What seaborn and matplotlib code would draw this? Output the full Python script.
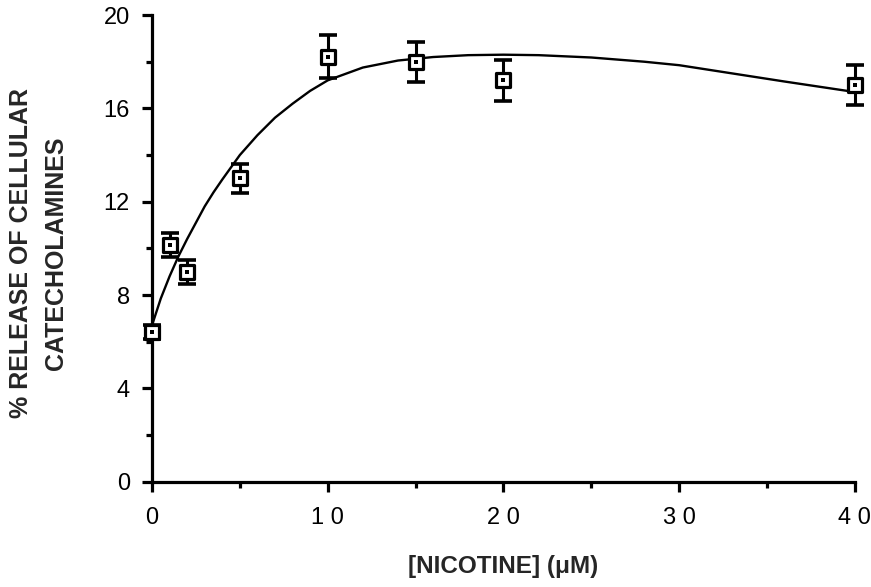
import matplotlib
matplotlib.use("Agg")
import matplotlib.pyplot as plt
import seaborn as sns
import pandas as pd
from matplotlib.ticker import MultipleLocator

# measured points
nicotine = [0, 1, 2, 5, 10, 15, 20, 40]
release = [6.42, 10.14, 8.99, 13.0, 18.21, 18.0, 17.2, 17.0]
err = [0.3, 0.53, 0.5, 0.62, 0.93, 0.85, 0.87, 0.85]

# fitted curve
curve_x = [0, 0.5, 1, 1.5, 2, 2.5, 3, 3.5, 4, 5, 6, 7, 8, 9, 10, 12, 14, 16,
           18, 20, 22, 25, 28, 30, 33, 36, 40]
curve_y = [6.7, 7.85, 8.8, 9.65, 10.4, 11.1, 11.8, 12.4, 12.95, 14.0, 14.85,
           15.6, 16.2, 16.75, 17.2, 17.75, 18.05, 18.2, 18.28, 18.3, 18.28,
           18.18, 18.0, 17.85, 17.5, 17.15, 16.7]

x_ticks = [0, 10, 20, 30, 40]
y_ticks = [0, 4, 8, 12, 16, 20]

sns.set_theme(style="ticks")
plt.rcParams['font.family'] = ['Liberation Sans', 'DejaVu Sans']

fig = plt.figure(figsize=(8.71, 5.87), dpi=100)
ax = fig.add_axes([0.1745, 0.1794, 0.807, 0.795])

pts = pd.DataFrame({"x": nicotine, "y": release, "e": err})
cur = pd.DataFrame({"x": curve_x, "y": curve_y})

sns.lineplot(data=cur, x="x", y="y", ax=ax, color="black", linewidth=1.7,
             sort=False, zorder=2)
ax.errorbar(pts["x"], pts["y"], yerr=pts["e"], fmt="none", ecolor="black",
            elinewidth=2.2, capsize=6.5, capthick=2.6, zorder=3, clip_on=False)
sns.scatterplot(data=pts, x="x", y="y", ax=ax, marker="s", s=100,
                facecolor="white", edgecolor="black", linewidth=2.3,
                zorder=4, clip_on=False)
sns.scatterplot(data=pts, x="x", y="y", ax=ax, marker="s", s=7,
                color="black", linewidth=0, zorder=5, clip_on=False)

ax.set_xlim(0, 40)
ax.set_ylim(0, 20)
ax.set_xticks(x_ticks)
ax.set_yticks(y_ticks)
ax.xaxis.set_minor_locator(MultipleLocator(5))
ax.yaxis.set_minor_locator(MultipleLocator(2))
ax.set_xticklabels([" ".join(str(t)) for t in x_ticks])

sns.despine(ax=ax)
for s in ["left", "bottom"]:
    ax.spines[s].set_linewidth(2.3)
    ax.spines[s].set_color("black")
ax.tick_params(axis="both", which="major", length=7.5, width=2.3, colors="black",
               labelsize=17, direction="out")
ax.tick_params(axis="x", which="major", pad=11)
ax.tick_params(axis="y", which="major", pad=8.5)
ax.tick_params(axis="x", which="minor", length=4, width=2.3, colors="black",
               direction="out")
ax.tick_params(axis="y", which="minor", length=4.5, width=2.3, colors="black",
               direction="out")

ax.set_xlabel("[NICOTINE] (\u03bcM)", fontsize=17.5, fontweight="bold")
ax.xaxis.set_label_coords(0.5, -0.157)
ax.set_ylabel("% RELEASE OF CELLULAR\nCATECHOLAMINES", fontsize=18,
              fontweight="bold", linespacing=1.55)
ax.yaxis.set_label_coords(-0.12, 0.49)
ax.grid(False)

fig.savefig("out.png", dpi=100, facecolor="white")
